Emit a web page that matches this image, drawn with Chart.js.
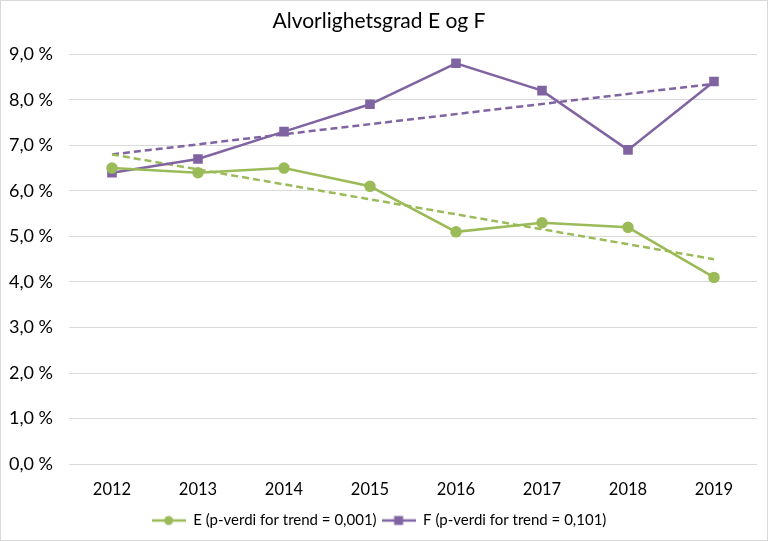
<!DOCTYPE html>
<html>
<head>
<meta charset="utf-8">
<script src="https://cdn.jsdelivr.net/npm/chart.js@4"></script>
<style>
  html, body { margin: 0; padding: 0; background: #fff; }
  #wrap { width: 766px; height: 539px; border: 1px solid #d9d9d9; position: relative; }
</style>
</head>
<body>
<div id="wrap"><canvas id="myChart"></canvas></div>
<script>
var years = ["2012", "2013", "2014", "2015", "2016", "2017", "2018", "2019"];
var valuesE = [6.5, 6.4, 6.5, 6.1, 5.1, 5.3, 5.2, 4.1];
var valuesF = [6.4, 6.7, 7.3, 7.9, 8.8, 8.2, 6.9, 8.4];
// trend lines at first and last year
var trendE = [6.8, null, null, null, null, null, null, 4.5];
var trendF = [6.8, null, null, null, null, null, null, 8.35];
var yTicks = [0, 1, 2, 3, 4, 5, 6, 7, 8, 9];

var green = "#9bbb59";
var purple = "#8064a2";
var font = "Lato, 'Open Sans', sans-serif";

function legendIcon(color, style) {
	var c = document.createElement('canvas');
	c.width = 34; c.height = 12;
	var g = c.getContext('2d');
	g.strokeStyle = color; g.lineWidth = 2.5;
	g.beginPath(); g.moveTo(0, 6); g.lineTo(34, 6); g.stroke();
	g.fillStyle = color;
	if (style === 'circle') {
		g.beginPath(); g.arc(17, 6, 4.5, 0, Math.PI * 2); g.fill();
	} else {
		g.fillRect(12.5, 1.5, 9, 9);
	}
	return c;
}

var ctx = document.getElementById('myChart').getContext('2d');
var myChart = new Chart(ctx, {
	type: 'line',
	data: {
		labels: years,
		datasets: [
			{
				label: "E (p-verdi for trend = 0,001)",
				data: valuesE,
				borderColor: green,
				backgroundColor: green,
				borderWidth: 2.5,
				pointStyle: 'circle',
				pointRadius: 4.5,
				pointHoverRadius: 4.5,
				tension: 0
			},
			{
				label: "F (p-verdi for trend = 0,101)",
				data: valuesF,
				borderColor: purple,
				backgroundColor: purple,
				borderWidth: 2.5,
				pointStyle: 'rect',
				pointRadius: 5,
				pointHoverRadius: 5,
				tension: 0
			},
			{
				label: "trendE",
				data: trendE,
				borderColor: green,
				borderWidth: 2.5,
				borderDash: [7, 4],
				pointRadius: 0,
				spanGaps: true
			},
			{
				label: "trendF",
				data: trendF,
				borderColor: purple,
				borderWidth: 2.5,
				borderDash: [7, 4],
				pointRadius: 0,
				spanGaps: true
			}
		]
	},
	options: {
		responsive: true,
		maintainAspectRatio: false,
		animation: false,
		layout: { padding: { left: 0, right: 10, top: 6, bottom: 2 } },
		plugins: {
			title: {
				display: true,
				text: "Alvorlighetsgrad E og F",
				color: "#000",
				font: { family: font, size: 21, weight: 'normal' },
				padding: { top: 2, bottom: 20 }
			},
			legend: {
				position: 'bottom',
				labels: {
					color: "#000",
					font: { family: font, size: 15 },
					usePointStyle: true,
					pointStyleWidth: 34,
					boxHeight: 12,
					padding: 5,
					filter: function(item) { return item.datasetIndex < 2; },
					generateLabels: function(chart) {
						var ds = chart.data.datasets;
						return [0, 1].map(function(i) {
							return {
								text: ds[i].label,
								pointStyle: legendIcon(ds[i].borderColor, i === 0 ? 'circle' : 'rect'),
								fillStyle: ds[i].borderColor,
								strokeStyle: ds[i].borderColor,
								lineWidth: 0,
								fontColor: "#000",
								datasetIndex: i
							};
						});
					}
				}
			},
			tooltip: { enabled: false }
		},
		scales: {
			x: {
				offset: true,
				grid: { display: false },
				border: { display: false },
				ticks: { color: "#000", font: { family: font, size: 16.5 }, padding: 8 }
			},
			y: {
				min: 0,
				max: 9,
				afterBuildTicks: function(axis) {
					axis.ticks = yTicks.map(function(v) { return { value: v }; });
				},
				afterFit: function(axis) { axis.width = 68; },
				grid: { color: "#d9d9d9", lineWidth: 1, drawTicks: false },
				border: { display: false },
				ticks: {
					color: "#000",
					font: { family: font, size: 18 },
					padding: 16,
					callback: function(v) { return v.toFixed(1).replace('.', ',') + " %"; }
				}
			}
		}
	}
});
</script>
</body>
</html>
